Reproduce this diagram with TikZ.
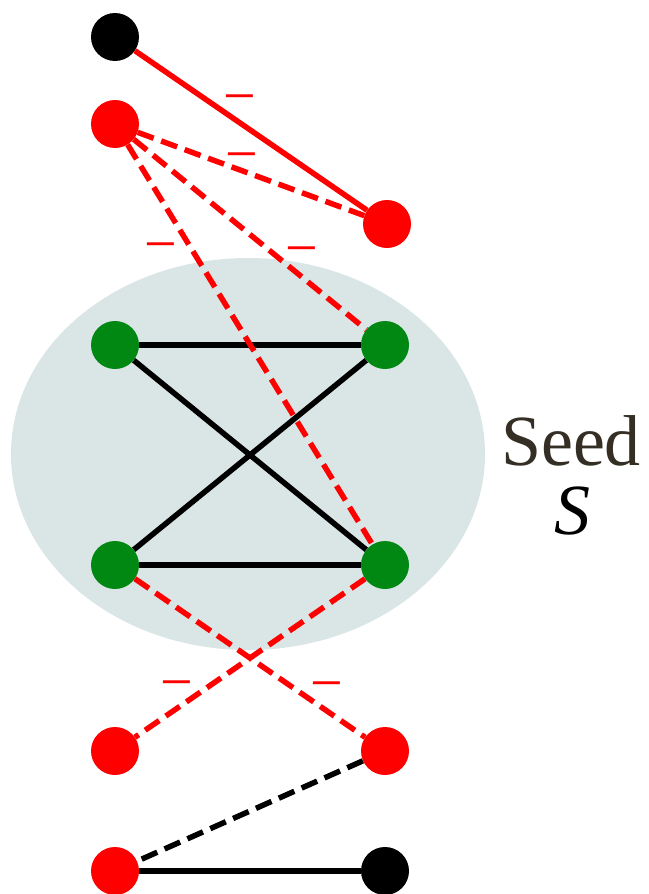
\documentclass[tikz,border=0pt]{standalone}
\usepackage{fontspec}
\setmainfont{Liberation Serif}
\newfontfamily\seedfont{Liberation Serif}
\usepackage{tikz}
\usetikzlibrary{shapes.geometric, positioning}

\definecolor{seedgray}{RGB}{218,229,229}
\definecolor{vgreen}{RGB}{0,136,18}
\definecolor{vred}{RGB}{255,0,0}
\definecolor{seedtext}{RGB}{52,46,36}

\begin{document}
\begin{tikzpicture}[
        x=1pt, y=-1pt,
        vtx/.style={circle, minimum size=48pt, inner sep=0pt},
        pos edge/.style={line width=5.5pt, black},
        neg edge/.style={line width=5.5pt, vred},
        unk/.style={dash pattern=on 17pt off 8pt},
        minus/.style={text=vred, font=\seedfont\fontsize{58}{58}\selectfont, inner sep=0pt}
    ]
    \useasboundingbox (0,0) rectangle (648,894);
    \node[ellipse, fill=seedgray, minimum width=474pt, minimum height=392pt, inner sep=0pt] (seed) at (248,454) {};
    \node[text=seedtext, font=\seedfont\fontsize{72}{72}\selectfont, anchor=base] (seedlbl) at (571,465) {Seed};
    \node[text=black, font=\seedfont\fontsize{72}{72}\selectfont\itshape, anchor=base] (seedS) at (572,534) {S};

    \node[vtx, fill=black] (t1) at (115,37) {};
    \node[vtx, fill=vred] (t2) at (115,124) {};
    \node[vtx, fill=vred] (t3) at (387,224) {};
    \node[vtx, fill=vgreen] (g1) at (115,345) {};
    \node[vtx, fill=vgreen] (g2) at (385,345) {};
    \node[vtx, fill=vgreen] (g3) at (115,565) {};
    \node[vtx, fill=vgreen] (g4) at (385,565) {};
    \node[vtx, fill=vred] (b1) at (115,751) {};
    \node[vtx, fill=vred] (b2) at (385,751) {};
    \node[vtx, fill=vred] (b3) at (115,871) {};
    \node[vtx, fill=black] (b4) at (385,871) {};

    % edges inside the seed
    \draw[pos edge] (g1) -- (g2);
    \draw[pos edge] (g1) -- (g4);
    \draw[pos edge] (g3) -- (g2);
    \draw[pos edge] (g3) -- (g4);

    % negative edges
    \draw[neg edge] (t1) -- (t3);
    \draw[neg edge, unk] (t2) -- (t3);
    \draw[neg edge, unk] (t2) -- (g2);
    \draw[neg edge, unk] (t2) -- (g4);
    \draw[neg edge, unk] (g3) -- (b2);
    \draw[neg edge, unk] (g4) -- (b1);

    % bottom pair
    \draw[pos edge, unk] (b2) -- (b3);
    \draw[pos edge] (b3) -- (b4);

    \node[minus] (m1) at (240,105) {−};
    \node[minus] (m2) at (242,163) {−};
    \node[minus] (m3) at (302,257) {−};
    \node[minus] (m4) at (161,253) {−};
    \node[minus] (m5) at (327,692) {−};
    \node[minus] (m6) at (177,691) {−};
\end{tikzpicture}
\end{document}
